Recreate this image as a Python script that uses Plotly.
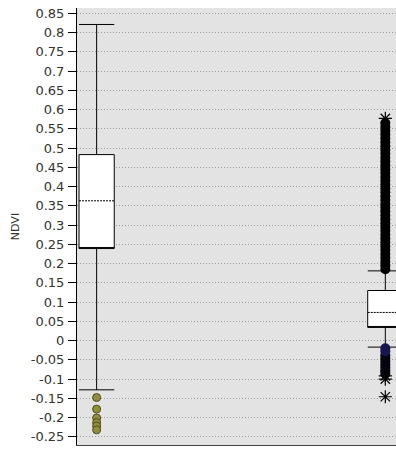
import plotly.graph_objects as go

# ---- data ----
box_positions = [0, 1]
q1_values = [0.239, 0.034]
q3_values = [0.483, 0.130]
mean_values = [0.363, 0.073]
lower_whiskers = [-0.128, -0.017]
upper_whiskers = [0.821, 0.181]

# outliers of box 1 (olive circles)
outliers_1 = [-0.148, -0.178, -0.201, -0.213, -0.222, -0.232]

# outliers of box 2 (dense column of points)
outliers_2_upper = [0.185, 0.195, 0.205, 0.215, 0.225, 0.235, 0.245, 0.255, 0.265, 0.275,
                    0.285, 0.295, 0.305, 0.315, 0.325, 0.335, 0.345, 0.355, 0.365, 0.375,
                    0.385, 0.395, 0.405, 0.415, 0.425, 0.435, 0.445, 0.455, 0.465, 0.475,
                    0.485, 0.495, 0.505, 0.515, 0.525, 0.535, 0.545, 0.555, 0.565]
outliers_2_lower = [-0.038, -0.046, -0.054, -0.062, -0.070, -0.078, -0.086]
outliers_2_near = [-0.020, -0.028]
extremes_2 = [0.577, -0.092, -0.100, -0.146]

tick_vals = [0.85, 0.8, 0.75, 0.7, 0.65, 0.6, 0.55, 0.5, 0.45, 0.4, 0.35, 0.3, 0.25, 0.2,
             0.15, 0.1, 0.05, 0, -0.05, -0.1, -0.15, -0.2, -0.25]
tick_text = ["0.85", "0.8", "0.75", "0.7", "0.65", "0.6", "0.55", "0.5", "0.45", "0.4",
             "0.35", "0.3", "0.25", "0.2", "0.15", "0.1", "0.05", "0", "-0.05", "-0.1",
             "-0.15", "-0.2", "-0.25"]

fig = go.Figure()

# boxes (median is not drawn in the reference; it is placed on the lower box edge)
fig.add_trace(go.Box(
    x=box_positions, q1=q1_values, median=q1_values, q3=q3_values,
    lowerfence=lower_whiskers, upperfence=upper_whiskers, mean=mean_values,
    boxmean=True, boxpoints=False, width=0.122, whiskerwidth=1,
    fillcolor="white", line=dict(color="black", width=1),
    hoverinfo="skip", showlegend=False,
))

fig.add_trace(go.Scatter(
    x=[box_positions[0]] * len(outliers_1), y=outliers_1, mode="markers",
    marker=dict(symbol="circle", size=8, color="#8f8d3e",
                line=dict(color="#4f4d1c", width=1)),
    hoverinfo="skip", showlegend=False, cliponaxis=False,
))

fig.add_trace(go.Scatter(
    x=[box_positions[1]] * len(outliers_2_upper), y=outliers_2_upper, mode="markers",
    marker=dict(symbol="circle", size=10, color="black"),
    hoverinfo="skip", showlegend=False,
))

fig.add_trace(go.Scatter(
    x=[box_positions[1]] * len(outliers_2_lower), y=outliers_2_lower, mode="markers",
    marker=dict(symbol="circle", size=10, color="#050510"),
    hoverinfo="skip", showlegend=False,
))

fig.add_trace(go.Scatter(
    x=[box_positions[1]] * len(outliers_2_near), y=outliers_2_near, mode="markers",
    marker=dict(symbol="circle", size=10, color="#161650"),
    hoverinfo="skip", showlegend=False,
))

fig.add_trace(go.Scatter(
    x=[box_positions[1]] * len(extremes_2), y=extremes_2, mode="markers",
    marker=dict(symbol="asterisk-open", size=11, color="black",
                line=dict(color="black", width=1.2)),
    hoverinfo="skip", showlegend=False,
))

fig.update_layout(
    width=396, height=449,
    margin=dict(l=77, r=0, t=8, b=4),
    paper_bgcolor="white",
    plot_bgcolor="#e3e3e3",
    showlegend=False,
    hovermode=False,
    font=dict(family="DejaVu Sans", size=13, color="#333333"),
)

fig.update_xaxes(
    range=[-0.068, 1.037], showticklabels=False, ticks="",
    showgrid=False, zeroline=False,
    showline=True, linecolor="#444444", linewidth=1,
)

fig.update_yaxes(
    range=[-0.2713, 0.8638],
    tickmode="array", tickvals=tick_vals, ticktext=tick_text,
    ticks="outside", ticklen=8, tickcolor="black", tickwidth=1,
    ticklabelstandoff=1,
    showgrid=True, gridcolor="#9a9a9a", griddash="1px,2px", gridwidth=1,
    zeroline=False,
    showline=True, linecolor="black", linewidth=1,
    title=dict(text="NDVI", font=dict(size=11, color="#333333"), standoff=8),
    automargin=False,
)

fig.write_html(
    "out.html",
    config={"displayModeBar": False, "staticPlot": True},
    post_script="document.body.style.margin='0';document.body.style.overflow='hidden';",
)
